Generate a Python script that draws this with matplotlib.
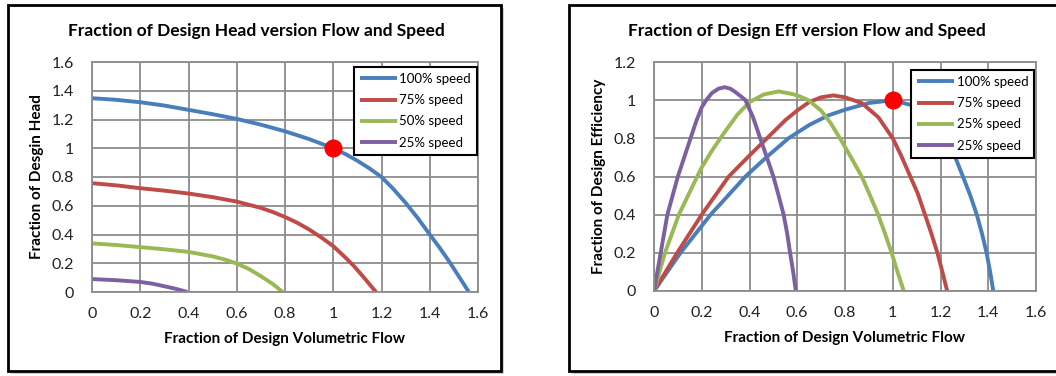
import matplotlib.pyplot as plt
from matplotlib.patches import Rectangle

plt.rcParams['font.family'] = ['Lato', 'DejaVu Sans']

# Excel 2007 style series colours
COLORS = ['#4A7EBB', '#BE4B48', '#98B954', '#7D60A0']
GRID = '#8C8C8C'

# Head vs flow
head_q_100 = [0, 0.1, 0.2, 0.3, 0.4, 0.5, 0.6, 0.7, 0.8, 0.9, 1.0, 1.05, 1.1, 1.15, 1.2, 1.25, 1.3, 1.35, 1.4, 1.44, 1.48, 1.52, 1.562]
head_100 = [1.348, 1.337, 1.32, 1.297, 1.267, 1.237, 1.204, 1.164, 1.118, 1.064, 1.0, 0.96, 0.913, 0.86, 0.80, 0.715, 0.62, 0.515, 0.40, 0.31, 0.214, 0.11, 0]
head_q_75 = [0, 0.1, 0.2, 0.3, 0.4, 0.5, 0.6, 0.7, 0.75, 0.8, 0.85, 0.9, 0.95, 1.0, 1.05, 1.086, 1.13, 1.177]
head_75 = [0.757, 0.742, 0.722, 0.705, 0.685, 0.66, 0.629, 0.585, 0.556, 0.522, 0.482, 0.435, 0.38, 0.319, 0.24, 0.18, 0.095, 0]
head_q_50 = [0, 0.1, 0.2, 0.3, 0.4, 0.5, 0.55, 0.6, 0.65, 0.7, 0.75, 0.79]
head_50 = [0.338, 0.327, 0.312, 0.297, 0.279, 0.248, 0.226, 0.198, 0.16, 0.11, 0.055, 0]
head_q_25 = [0, 0.1, 0.2, 0.25, 0.3, 0.35, 0.395]
head_25 = [0.09, 0.082, 0.07, 0.058, 0.04, 0.021, 0]
head_labels = ['100% speed', '75% speed', '50% speed', '25% speed']

# Efficiency vs flow
eff_q_100 = [0, 0.111, 0.237, 0.3, 0.383, 0.47, 0.563, 0.65, 0.73, 0.8, 0.9, 1.0, 1.09, 1.17, 1.23, 1.262, 1.294, 1.325, 1.352, 1.374, 1.393, 1.408, 1.421]
eff_100 = [0, 0.2, 0.4, 0.486, 0.6, 0.7, 0.8, 0.87, 0.92, 0.95, 0.985, 1.0, 0.97, 0.89, 0.78, 0.70, 0.6, 0.5, 0.4, 0.3, 0.2, 0.1, 0]
eff_q_75 = [0, 0.097, 0.2, 0.313, 0.4, 0.473, 0.55, 0.6, 0.65, 0.7, 0.751, 0.8, 0.87, 0.94, 1.0, 1.035, 1.07, 1.105, 1.135, 1.162, 1.187, 1.208, 1.228]
eff_75 = [0, 0.2, 0.4, 0.6, 0.71, 0.8, 0.895, 0.946, 0.99, 1.015, 1.025, 1.015, 0.985, 0.91, 0.8, 0.71, 0.61, 0.51, 0.4, 0.3, 0.2, 0.1, 0]
eff_q_50 = [0, 0.046, 0.104, 0.181, 0.2, 0.24, 0.278, 0.3, 0.35, 0.4, 0.46, 0.522, 0.58, 0.6, 0.647, 0.7, 0.74, 0.779, 0.83, 0.87, 0.905, 0.939, 0.968, 0.995, 1.02, 1.046]
eff_50 = [0, 0.2, 0.4, 0.6, 0.648, 0.73, 0.8, 0.84, 0.925, 0.99, 1.03, 1.046, 1.032, 1.025, 1.0, 0.945, 0.88, 0.8, 0.69, 0.6, 0.5, 0.4, 0.3, 0.2, 0.1, 0]
eff_q_25 = [0, 0.014, 0.028, 0.056, 0.1, 0.153, 0.177, 0.2, 0.222, 0.243, 0.27, 0.296, 0.32, 0.341, 0.362, 0.383, 0.415, 0.445, 0.47, 0.5, 0.522, 0.543, 0.558, 0.57, 0.583, 0.594]
eff_25 = [0, 0.1, 0.2, 0.4, 0.6, 0.8, 0.89, 0.963, 1.005, 1.038, 1.06, 1.068, 1.06, 1.042, 1.022, 1.0, 0.91, 0.8, 0.71, 0.6, 0.5, 0.4, 0.3, 0.2, 0.1, 0]
eff_labels = ['100% speed', '75% speed', '25% speed', '25% speed']

design_q = [1.0]
design_val = [1.0]

fig = plt.figure(figsize=(10.56, 3.76), dpi=100)
W, H = 1056, 376


def px_rect(x0, y0, x1, y1, **kw):
    # rectangle given in pixel coords measured from top-left
    return Rectangle((x0 / W, 1 - y1 / H), (x1 - x0) / W, (y1 - y0) / H,
                     transform=fig.transFigure, **kw)


# panel frames with a soft shadow
for x0, x1 in [(8, 501), (569, 1060)]:
    fig.patches.append(px_rect(x0 + 3, 8, x1 + 3, 374, facecolor='#D0D0D0', edgecolor='none', zorder=-3))
    fig.patches.append(px_rect(x0, 5, x1, 371, facecolor='white', edgecolor='black', linewidth=2, zorder=-2))


def style_axes(ax, ymax):
    ax.set_xlim(0, 1.6)
    ax.set_ylim(0, ymax)
    ax.set_xticks([0, 0.2, 0.4, 0.6, 0.8, 1.0, 1.2, 1.4, 1.6])
    ax.set_xticklabels(['0', '0.2', '0.4', '0.6', '0.8', '1', '1.2', '1.4', '1.6'])
    yt = [round(0.2 * i, 1) for i in range(int(round(ymax / 0.2)) + 1)]
    ax.set_yticks(yt)
    ax.set_yticklabels(['0' if v == 0 else ('1' if v == 1 else f'{v:g}') for v in yt])
    ax.grid(True, color=GRID, linewidth=1.3)
    ax.set_axisbelow(True)
    for s in ax.spines.values():
        s.set_color(GRID)
        s.set_linewidth(1.3)
    ax.tick_params(length=0, labelsize=11.5, colors='#222222')
    ax.tick_params(axis='x', pad=11)
    ax.tick_params(axis='y', pad=13)


legend_kw = dict(loc='upper right', borderaxespad=0, fontsize=9.5, frameon=True,
                 fancybox=False, edgecolor='black', framealpha=1,
                 handlelength=2.8, handletextpad=0.2, labelspacing=0.7, borderpad=0.45)

# left panel: head
ax1 = fig.add_axes([92 / W, 1 - 292 / H, 386 / W, 230 / H])
for q, h, c, lab in zip([head_q_100, head_q_75, head_q_50, head_q_25],
                        [head_100, head_75, head_50, head_25], COLORS, head_labels):
    ax1.plot(q, h, color=c, lw=2.8, label=lab, solid_capstyle='butt', solid_joinstyle='round')
ax1.plot(design_q, design_val, 'o', color='#FF0000', markersize=12, zorder=5)
style_axes(ax1, 1.6)
ax1.set_xlabel('Fraction of Design Volumetric Flow', fontsize=11, fontweight='bold', labelpad=8)
ax1.set_ylabel('Fraction of Desgin Head', fontsize=11, fontweight='bold', labelpad=5)
leg1 = ax1.legend(bbox_to_anchor=(0.997, 0.978), **legend_kw)
leg1.get_frame().set_linewidth(1.5)
fig.text(256 / W, 1 - 31 / H, 'Fraction of Design Head version Flow and Speed',
         ha='center', va='center', fontsize=12.5, fontweight='bold')

# right panel: efficiency
ax2 = fig.add_axes([654 / W, 1 - 291 / H, 382 / W, 229 / H])
for q, e, c, lab in zip([eff_q_100, eff_q_75, eff_q_50, eff_q_25],
                        [eff_100, eff_75, eff_50, eff_25], COLORS, eff_labels):
    ax2.plot(q, e, color=c, lw=2.8, label=lab, solid_capstyle='butt', solid_joinstyle='round')
ax2.plot(design_q, design_val, 'o', color='#FF0000', markersize=12, zorder=5)
style_axes(ax2, 1.2)
ax2.set_xlabel('Fraction of Design Volumetric Flow', fontsize=11, fontweight='bold', labelpad=8)
ax2.set_ylabel('Fraction of Design Efficiency', fontsize=11, fontweight='bold', labelpad=5)
leg2 = ax2.legend(bbox_to_anchor=(0.995, 0.965), **legend_kw)
leg2.get_frame().set_linewidth(1.5)
leg2.set_zorder(10)
fig.text(807 / W, 1 - 31 / H, 'Fraction of Design Eff version Flow and Speed',
         ha='center', va='center', fontsize=12.5, fontweight='bold')

fig.savefig('out.png', dpi=100)
